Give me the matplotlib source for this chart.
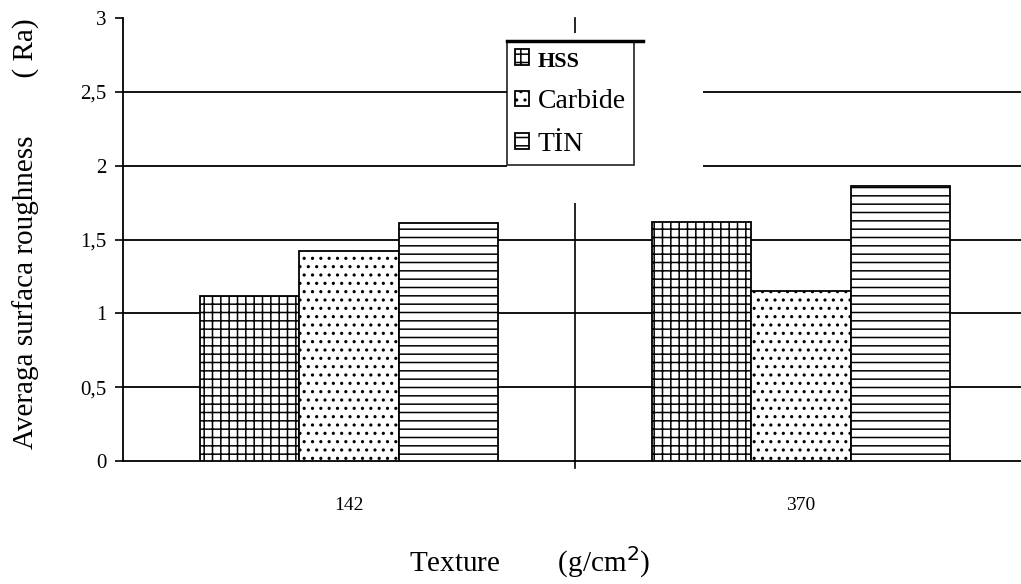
import matplotlib.pyplot as plt
import numpy as np
from matplotlib.patches import Rectangle
from matplotlib.lines import Line2D

plt.rcParams['font.family'] = ['Liberation Serif', 'DejaVu Serif']
plt.rcParams['hatch.linewidth'] = 1.1
plt.rcParams['hatch.color'] = 'black'

textures = ['142', '370']
tools = ['HSS', 'Carbide', 'TİN']
ra_hss = [1.12, 1.62]
ra_carbide = [1.42, 1.15]
ra_tin = [1.61, 1.86]
yticks = [0, 0.5, 1, 1.5, 2, 2.5, 3]
ytick_labels = ['0', '0,5', '1', '1,5', '2', '2,5', '3']

W, H = 1021, 584
fig = plt.figure(figsize=(W / 100, H / 100), dpi=100)
# axes spans a bit past the right edge, like the original export
ax = fig.add_axes([123 / W, 1 - 461 / H, (1027 - 123) / W, (461 - 18) / H])

x = np.arange(len(textures))
bw = 0.22
hatches = ['++', '..', '--']
for i, vals in enumerate([ra_hss, ra_carbide, ra_tin]):
    ax.bar(x + (i - 1) * bw, vals, width=bw, facecolor='white', edgecolor='black',
           linewidth=1.3, hatch=hatches[i], zorder=3, label=tools[i])

for v in yticks[1:-1]:
    ax.axhline(v, color='black', lw=1.3, zorder=1)

# category divider (partly hidden by the legend area)
ax.plot([0.5, 0.5], [-0.05, 3], color='black', lw=1.2, clip_on=False, zorder=1)

ax.set_xlim(-0.5, 1.5)
ax.set_ylim(0, 3)
ax.set_yticks(yticks)
ax.set_yticklabels(ytick_labels, fontsize=15)
ax.set_xticks(x)
ax.set_xticklabels(textures, fontsize=14)
ax.tick_params(axis='x', length=0, pad=26)
ax.tick_params(axis='y', direction='out', length=6, width=1.2, pad=6)
for s in ['top', 'right']:
    ax.spines[s].set_visible(False)
ax.spines['left'].set_linewidth(1.3)
ax.spines['bottom'].set_linewidth(1.3)

fig.text(26 / W, 1 - 234 / H, 'Averaga surfaca roughness        ( Ra)', fontsize=21,
         rotation=90, ha='center', va='center')
fig.text(530 / W, 1 - 562 / H, 'Texture        (g/cm$^2$)', fontsize=21,
         ha='center', va='center')

# white area behind the legend
ax.add_patch(Rectangle((507 / W, 1 - 203 / H), (703 - 507) / W, (203 - 33) / H,
                       transform=fig.transFigure, facecolor='white', edgecolor='none',
                       zorder=2, clip_on=False))
leg = ax.legend(loc='upper left', bbox_to_anchor=(507 / W, 1 - 41 / H),
                bbox_transform=fig.transFigure, fontsize=20, frameon=True,
                fancybox=False, handlelength=0.5, handleheight=0.5,
                handletextpad=0.3, labelspacing=0.62, borderpad=0.3, borderaxespad=0)
leg.get_frame().set_edgecolor('black')
leg.get_frame().set_linewidth(1.3)
leg.get_texts()[0].set_fontweight('bold')
leg.get_texts()[0].set_fontsize(16)
fig.add_artist(Line2D([507 / W, 643 / W], [1 - 41 / H, 1 - 41 / H], color='black', lw=2.5))

fig.savefig('out.png', dpi=100)
